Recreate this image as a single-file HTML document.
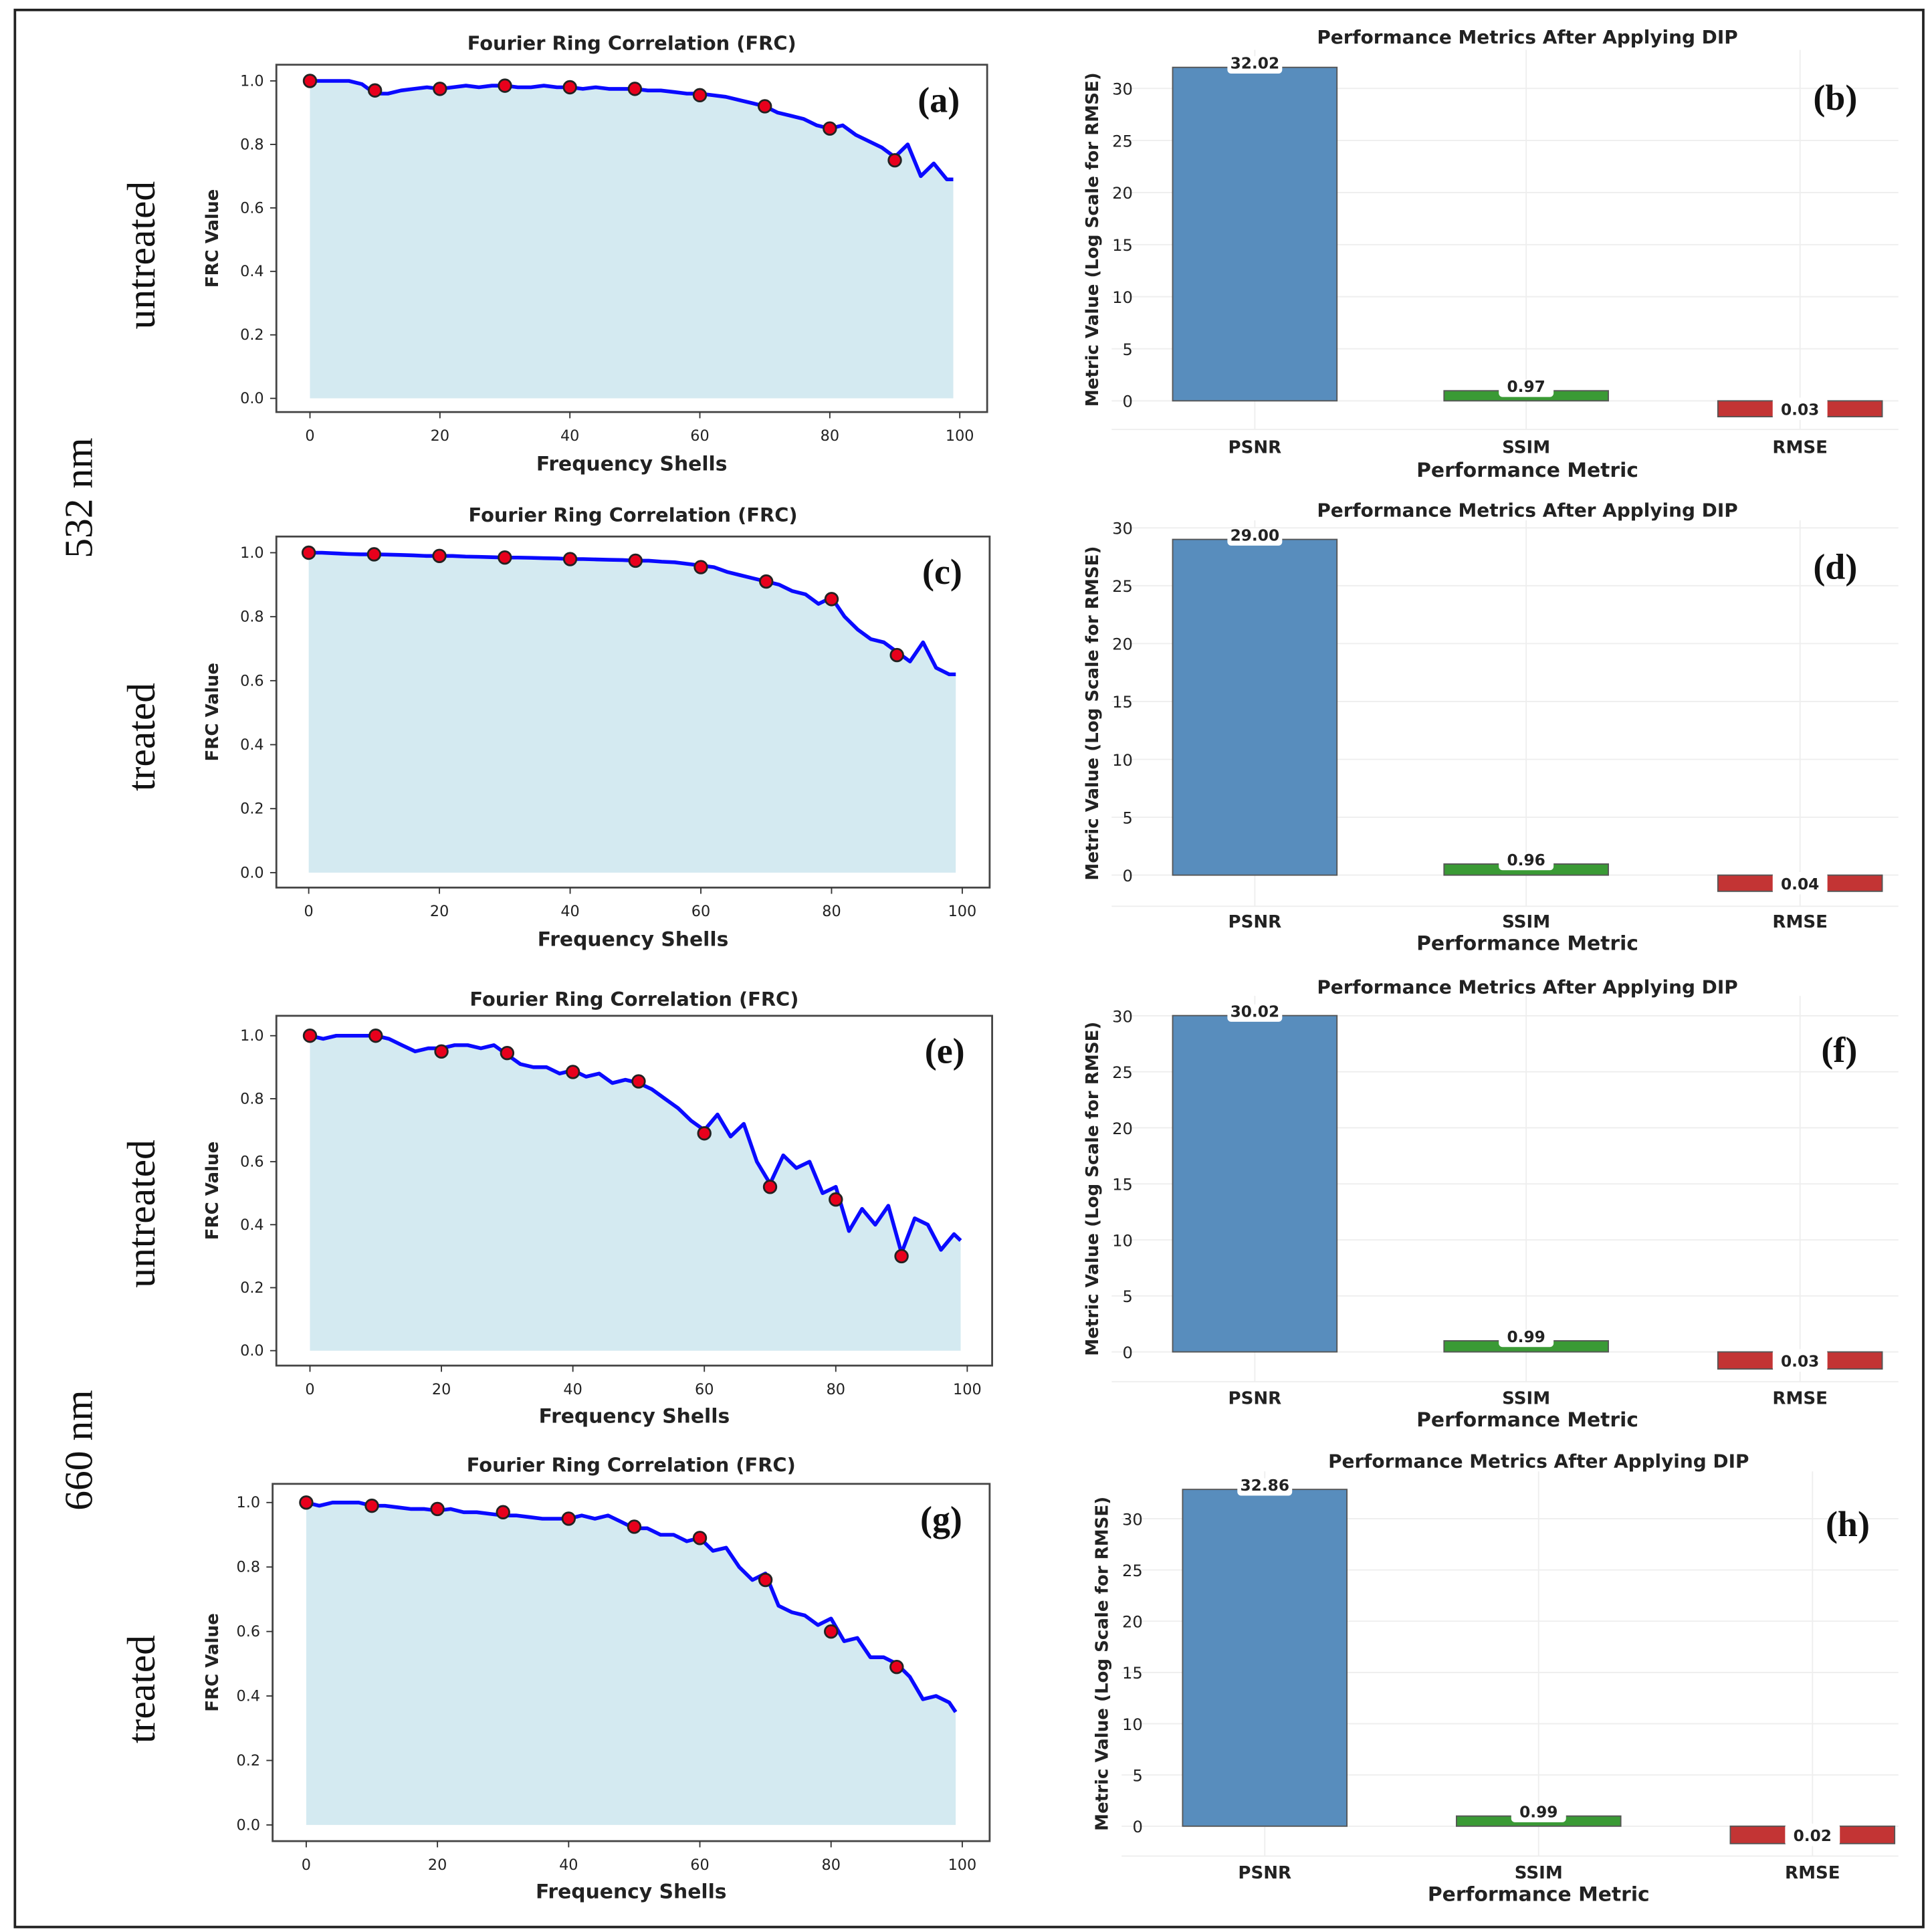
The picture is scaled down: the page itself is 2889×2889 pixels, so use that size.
<!DOCTYPE html>
<html><head><meta charset="utf-8"><style>
html,body{margin:0;padding:0;background:#fff;}
svg{display:block;}
text{font-family:"DejaVu Sans","Liberation Sans",sans-serif;}
.ser{font-family:"Liberation Serif",serif;}
</style></head><body>
<svg id="fig" width="2889" height="2889" viewBox="0 0 1552 1552" xmlns="http://www.w3.org/2000/svg">
<rect x="12" y="8" width="1533" height="1540" fill="none" stroke="#222" stroke-width="2"/>
<text class="ser" x="0" y="0" transform="translate(74,400) rotate(-90)" text-anchor="middle" font-size="32" fill="#111">532 nm</text>
<text class="ser" x="0" y="0" transform="translate(74,1165) rotate(-90)" text-anchor="middle" font-size="32" fill="#111">660 nm</text>
<text class="ser" x="0" y="0" transform="translate(124,205) rotate(-90)" text-anchor="middle" font-size="32" fill="#111">untreated</text>
<text class="ser" x="0" y="0" transform="translate(124,592) rotate(-90)" text-anchor="middle" font-size="32" fill="#111">treated</text>
<text class="ser" x="0" y="0" transform="translate(124,975) rotate(-90)" text-anchor="middle" font-size="32" fill="#111">untreated</text>
<text class="ser" x="0" y="0" transform="translate(124,1357) rotate(-90)" text-anchor="middle" font-size="32" fill="#111">treated</text>
</svg>
<script>
// ---- FRC data ----
const frcShellsA=[0,2,4,6,8,10,12,14,16,18,20,22,24,26,28,30,32,34,36,38,40,42,44,46,48,50,52,54,56,58,60,62,64,66,68,70,72,74,76,78,80,82,84,86,88,90,92,94,96,98,99];
const frcA=[1.0,1.0,1.0,1.0,0.99,0.96,0.96,0.97,0.975,0.98,0.975,0.98,0.985,0.98,0.985,0.985,0.98,0.98,0.985,0.98,0.98,0.975,0.98,0.975,0.975,0.975,0.97,0.97,0.965,0.96,0.96,0.955,0.95,0.94,0.93,0.92,0.9,0.89,0.88,0.86,0.85,0.86,0.83,0.81,0.79,0.76,0.8,0.7,0.74,0.69,0.69];
const frcC=[1.0,1.0,0.998,0.996,0.995,0.995,0.994,0.993,0.992,0.99,0.99,0.99,0.988,0.987,0.986,0.985,0.985,0.984,0.983,0.982,0.98,0.98,0.979,0.978,0.977,0.975,0.975,0.972,0.97,0.965,0.96,0.955,0.94,0.93,0.92,0.91,0.9,0.88,0.87,0.84,0.86,0.8,0.76,0.73,0.72,0.69,0.66,0.72,0.64,0.62,0.62];
const frcE=[1.0,0.99,1.0,1.0,1.0,1.0,0.99,0.97,0.95,0.96,0.96,0.97,0.97,0.96,0.97,0.94,0.91,0.9,0.9,0.88,0.89,0.87,0.88,0.85,0.86,0.85,0.83,0.8,0.77,0.73,0.7,0.75,0.68,0.72,0.6,0.53,0.62,0.58,0.6,0.5,0.52,0.38,0.45,0.4,0.46,0.31,0.42,0.4,0.32,0.37,0.35];
const frcG=[1.0,0.99,1.0,1.0,1.0,0.99,0.99,0.985,0.98,0.98,0.975,0.98,0.97,0.97,0.965,0.96,0.96,0.955,0.95,0.95,0.95,0.96,0.95,0.96,0.94,0.92,0.92,0.9,0.9,0.88,0.89,0.85,0.86,0.8,0.76,0.78,0.68,0.66,0.65,0.62,0.64,0.57,0.58,0.52,0.52,0.5,0.46,0.39,0.4,0.38,0.35];
const markerShells=[0,10,20,30,40,50,60,70,80,90];
const markA=[1.0,0.97,0.975,0.985,0.98,0.975,0.955,0.92,0.85,0.75];
const markC=[1.0,0.995,0.99,0.985,0.98,0.975,0.955,0.91,0.855,0.68];
const markE=[1.0,1.0,0.95,0.945,0.885,0.855,0.69,0.52,0.48,0.3];
const markG=[1.0,0.99,0.98,0.97,0.95,0.925,0.89,0.76,0.6,0.49];
const frcXTicks=[0,20,40,60,80,100];
const frcYTicks=[0.0,0.2,0.4,0.6,0.8,1.0];
// ---- bar data ----
const metricNames=["PSNR","SSIM","RMSE"];
const psnrVals=[32.02,29.00,30.02,32.86];
const ssimVals=[0.97,0.96,0.99,0.99];
const rmseVals=[0.03,0.04,0.03,0.02];
const barYTicks=[0,5,10,15,20,25,30];

const NS="http://www.w3.org/2000/svg";
const svg=document.getElementById('fig');
function el(tag,attrs,parent,txt){const e=document.createElementNS(NS,tag);for(const k in attrs)e.setAttribute(k,attrs[k]);if(txt!==undefined)e.textContent=txt;(parent||svg).appendChild(e);return e;}

const frcPanels=[
 {id:'a',frame:[222,52,793,331],x0:249,x1:771,y0:320,y1:65,title:35,xl:372,d:frcA,m:markA},
 {id:'c',frame:[222,431,795,713],x0:248,x1:773,y0:701,y1:444,title:414,xl:754,d:frcC,m:markC},
 {id:'e',frame:[222,816,797,1097],x0:249,x1:777,y0:1085,y1:832,title:803,xl:1137,d:frcE,m:markE},
 {id:'g',frame:[219,1192,795,1479],x0:246,x1:773,y0:1466,y1:1207,title:1177,xl:1519,d:frcG,m:markG}
];
frcPanels.forEach(p=>{
 const g=el('g',{});
 
 
 const sx=v=>p.x0+(p.x1-p.x0)*v/100, sy=v=>p.y0+(p.y1-p.y0)*v;
 const [fx0,fy0,fx1,fy1]=p.frame;
 const cx=(fx0+fx1)/2;
 let pts=frcShellsA.map((s,i)=>sx(s).toFixed(1)+','+sy(p.d[i]).toFixed(1));
 const area=el('polygon',{points:sx(0)+','+sy(0)+' '+pts.join(' ')+' '+sx(99)+','+sy(0),fill:'#d4eaf1'},g);
 
 
 const line=el('polyline',{points:pts.join(' '),fill:'none',stroke:'#0a0aff','stroke-width':3,'stroke-linejoin':'round'},g);
 
 
 markerShells.forEach((s,i)=>{
  const c=el('circle',{cx:sx(s),cy:sy(p.m[i]),r:5,fill:'#e8001c',stroke:'#222','stroke-width':1.5},g);
  
  
 });
 const fr=el('rect',{x:fx0,y:fy0,width:fx1-fx0,height:fy1-fy0,fill:'none',stroke:'#444','stroke-width':1.5},g);
 
 
 frcXTicks.forEach(t=>{
  el('line',{x1:sx(t),x2:sx(t),y1:fy1,y2:fy1+5,stroke:'#333'},g);
  const tx=el('text',{x:sx(t),y:fy1+23,'text-anchor':'middle','font-size':12,fill:'#222'},g,String(t));
  
  
 });
 frcYTicks.forEach(t=>{
  el('line',{x1:fx0-5,x2:fx0,y1:sy(t),y2:sy(t),stroke:'#333'},g);
  const tx=el('text',{x:fx0-10,y:sy(t)+4,'text-anchor':'end','font-size':12,fill:'#222'},g,t.toFixed(1));
  
  
 });
 const ti=el('text',{x:cx,y:p.title+5,'text-anchor':'middle','font-size':15.5,'font-weight':'bold',fill:'#222'},g,'Fourier Ring Correlation (FRC)');
 
 
 const xl=el('text',{x:cx,y:p.xl+6,'text-anchor':'middle','font-size':16,'font-weight':'bold',fill:'#222'},g,'Frequency Shells');
 
 
 const yl=el('text',{transform:'translate(175,'+((fy0+fy1)/2)+') rotate(-90)','text-anchor':'middle','font-size':14,'font-weight':'bold',fill:'#222'},g,'FRC Value');
 
 
 const lt=el('text',{class:'ser',x:fx1-22,y:fy0+38,'text-anchor':'end','font-size':29,'font-weight':'bold',fill:'#111'},g,'('+p.id+')');
 
 
});

const barPanels=[
 {id:'b',ax:[885,40,1545,345],y0:322,y30:71,bx:[942,1160,1380],title:30,tl:359,xl:377,ly:78},
 {id:'d',ax:[885,418,1545,728],y0:703,y30:424,bx:[942,1160,1380],title:410,tl:740,xl:757,ly:455},
 {id:'f',ax:[885,800,1545,1110],y0:1086,y30:816,bx:[942,1160,1380],title:793,tl:1123,xl:1140,ly:843},
 {id:'h',ax:[893,1182,1545,1491],y0:1467,y30:1220,bx:[950,1170,1390],title:1174,tl:1504,xl:1521,ly:1224}
];
const barColors=['#588dbd','#3a9a35','#c33434'];
barPanels.forEach((p,k)=>{
 const g=el('g',{});
 
 
 const sy=v=>p.y0+(p.y30-p.y0)*v/30;
 const [ax0,ay0,ax1,ay1]=p.ax;
 const bw=132;
 barYTicks.forEach(t=>{
  el('line',{x1:ax0+8,x2:ax1-20,y1:sy(t),y2:sy(t),stroke:'#eeeeee','stroke-width':1},g);
  const tx=el('text',{x:ax0+25,y:sy(t)+5,'text-anchor':'end','font-size':13,fill:'#222'},g,String(t));
  
  
 });
 p.bx.forEach(bx=>el('line',{x1:bx+bw/2,x2:bx+bw/2,y1:ay0,y2:ay1,stroke:'#eeeeee'},g));
 el('line',{x1:ax0+8,x2:ax1-20,y1:ay1,y2:ay1,stroke:'#eeeeee'},g);
 const vals=[psnrVals[k],ssimVals[k],Math.log10(rmseVals[k])];
 const labels=[psnrVals[k].toFixed(2),ssimVals[k].toFixed(2),rmseVals[k].toFixed(2)];
 vals.forEach((v,i)=>{
  const yTop=Math.min(sy(v),sy(0)), h=Math.abs(sy(v)-sy(0));
  const r=el('rect',{x:p.bx[i],y:yTop,width:bw,height:h,fill:barColors[i],stroke:'#555','stroke-width':1},g);
  
  
  const cx=p.bx[i]+bw/2;
  let ly = i<2 ? sy(v) : sy(v/2);
  el('rect',{x:cx-22,y:ly-9,width:44,height:i<2?14:18,rx:3,fill:'#fff'},g);
  const lt=el('text',{x:cx,y:i<2?ly+1:ly+5,'text-anchor':'middle','font-size':12.5,'font-weight':'bold',fill:'#222'},g,labels[i]);
  
  
  const cl=el('text',{x:cx,y:p.tl+5,'text-anchor':'middle','font-size':14,'font-weight':'bold',fill:'#222'},g,metricNames[i]);
  
  
 });
 const mid=(p.bx[0]+p.bx[2]+bw)/2;
 const ti=el('text',{x:mid,y:p.title+5,'text-anchor':'middle','font-size':15,'font-weight':'bold',fill:'#222'},g,'Performance Metrics After Applying DIP');
 
 
 const xl=el('text',{x:mid,y:p.xl+6,'text-anchor':'middle','font-size':16,'font-weight':'bold',fill:'#222'},g,'Performance Metric');
 
 
 const yl=el('text',{transform:'translate('+(ax0-3)+','+((ay0+ay1)/2)+') rotate(-90)','text-anchor':'middle','font-size':14,'font-weight':'bold',fill:'#222'},g,'Metric Value (Log Scale for RMSE)');
 
 
 const lt=el('text',{class:'ser',x:(p.id==='h'?1502:1492),y:p.ly+10,'text-anchor':'end','font-size':29,'font-weight':'bold',fill:'#111'},g,'('+p.id+')');
 
 
});
</script>
</body></html>
